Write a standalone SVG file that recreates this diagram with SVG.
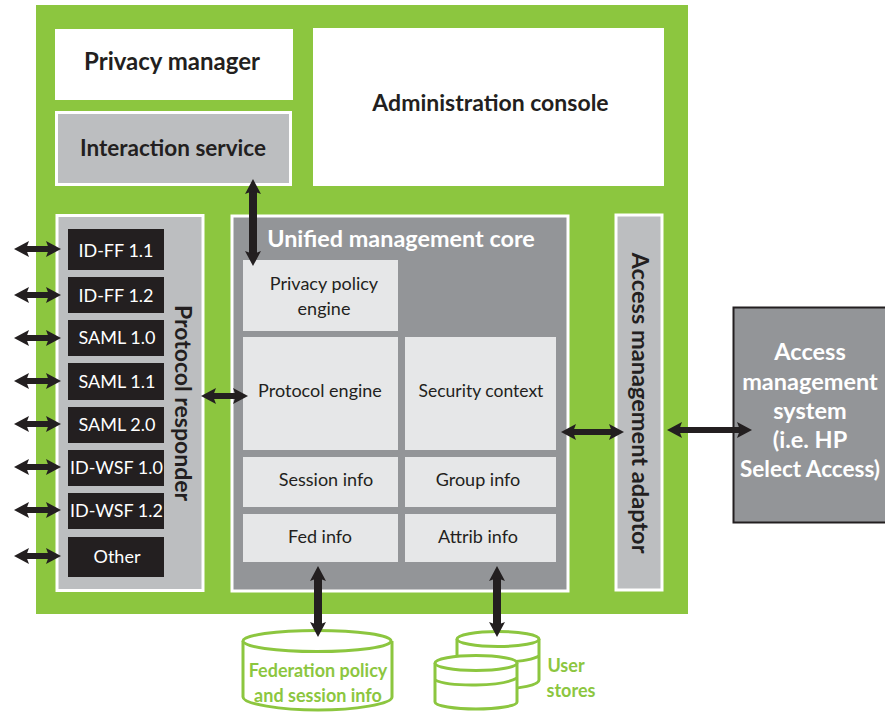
<svg xmlns="http://www.w3.org/2000/svg" width="885" height="712" viewBox="0 0 885 712">
<defs>
<marker id="ah" markerUnits="userSpaceOnUse" markerWidth="16" markerHeight="16" refX="4" refY="8" orient="auto-start-reverse" viewBox="0 0 16 16"><path d="M0 0L15 8L0 16L3 8Z" fill="#231f20"/></marker>
</defs>
<style>
text{font-family:"Lato","Liberation Sans",sans-serif;text-anchor:middle}
.b{font-weight:700;font-size:23px;fill:#231f20}
.w{fill:#fff;stroke:none}
.g{fill:#bcbec0;stroke:#fff;stroke-width:3}
.d{fill:#939598;stroke:#fff;stroke-width:3}
.l{fill:#e6e7e8}
.k{fill:#231f20}
.n{font-size:18px;fill:#231f20}
.t{font-size:18px;fill:#fff}
.wb{font-weight:700;font-size:23.500px;fill:#fff}
.gt{font-weight:700;font-size:18px;fill:#8cc63f}
.c{fill:#fff;stroke:#8cc63f;stroke-width:3}
.cn{stroke:#231f20;stroke-width:6;fill:none;marker-start:url(#ah);marker-end:url(#ah)}
.cb{stroke:#231f20;stroke-width:8;fill:none;marker-start:url(#ah);marker-end:url(#ah)}
</style>
<rect id="frame" x="36" y="5" width="652" height="609" fill="#8cc63f"/>
<g id="privacy-manager"><rect class="w" x="55" y="29" width="238" height="71"/><text class="b" style="font-size:24px" x="172" y="70">Privacy manager</text></g>
<g id="admin-console"><rect class="w" x="313" y="28" width="351" height="158"/><text class="b" x="490.500" y="111">Administration console</text></g>
<g id="interaction-service"><rect class="g" x="56.500" y="112.500" width="234" height="72"/><text class="b" style="font-size:22.500px" x="173" y="156">Interaction service</text></g>
<g id="protocol-responder"><rect class="g" x="57" y="215.500" width="146" height="375"/>
<text class="b" transform="translate(175 403) rotate(90)">Protocol responder</text>
<rect class="k" x="68" y="229" width="96" height="41"/><text class="t" x="116" y="257">ID-FF 1.1</text>
<rect class="k" x="68" y="277" width="96" height="36"/><text class="t" x="116" y="302">ID-FF 1.2</text>
<rect class="k" x="68" y="320" width="96" height="36"/><text class="t" x="117" y="344">SAML 1.0</text>
<rect class="k" x="68" y="363" width="96" height="37"/><text class="t" x="117" y="388">SAML 1.1</text>
<rect class="k" x="68" y="407" width="96" height="36"/><text class="t" x="117" y="431">SAML 2.0</text>
<rect class="k" x="68" y="450" width="96" height="36"/><text class="t" x="116.500" y="474">ID-WSF 1.0</text>
<rect class="k" x="68" y="493" width="96" height="36"/><text class="t" x="116.500" y="517">ID-WSF 1.2</text>
<rect class="k" x="68" y="537" width="96" height="40"/><text class="t" x="117" y="563">Other</text>
</g>
<g id="core"><rect class="d" x="232" y="216" width="336" height="375"/><text class="wb" style="font-size:23.400px" x="401" y="247">Unified management core</text>
<rect class="l" x="243" y="260" width="155" height="71"/><text class="n" x="324" y="290">Privacy policy</text><text class="n" x="324" y="315">engine</text>
<rect class="l" x="243" y="337" width="155" height="113"/><text class="n" x="320" y="397">Protocol engine</text>
<rect class="l" x="405" y="337" width="151" height="113"/><text class="n" style="font-size:17.500px" x="481" y="397">Security context</text>
<rect class="l" x="243" y="457" width="155" height="50"/><text class="n" x="326" y="486">Session info</text>
<rect class="l" x="405" y="457" width="151" height="50"/><text class="n" x="478" y="486">Group info</text>
<rect class="l" x="243" y="514" width="155" height="48"/><text class="n" x="320" y="543">Fed info</text>
<rect class="l" x="405" y="514" width="151" height="48"/><text class="n" x="478" y="543">Attrib info</text>
</g>
<g id="access-adaptor"><rect class="g" x="616" y="215" width="46" height="375"/><text class="b" style="font-size:23.600px" transform="translate(632 403) rotate(90)">Access management adaptor</text></g>
<g id="access-system"><rect x="733.500" y="307.500" width="155" height="215" fill="#939598" stroke="#231f20" stroke-width="2"/>
<text class="wb" x="810" y="360">Access</text><text class="wb" x="810" y="390">management</text><text class="wb" x="810" y="419">system</text><text class="wb" x="810" y="448">(i.e. HP</text><text class="wb" style="font-size:22.500px" x="810" y="477">Select Access)</text></g>
<g id="federation-store">
<path class="c" d="M243 641V697C243 704 281 710 318 710C355 710 392 704 392 697V641"/>
<ellipse class="c" cx="317" cy="641" rx="74" ry="10.500"/>
<text class="gt" x="318" y="677">Federation policy</text><text class="gt" x="318" y="702">and session info</text></g>
<g id="user-stores">
<path class="c" d="M457 639V681C457 686 480 689 498 689C520 689 539 685 539 680V639"/>
<path d="M457 658C470 664 525 664 539 656" fill="none" stroke="#8cc63f" stroke-width="3"/>
<ellipse class="c" cx="498" cy="639" rx="41" ry="7.500"/>
<path class="c" d="M435 663V702C435 706 455 709 476 709C497 709 517 706 517 702V663"/>
<path d="M435 680C450 687 502 687 517 678" fill="none" stroke="#8cc63f" stroke-width="3"/>
<ellipse class="c" cx="476" cy="663" rx="41" ry="7.500"/>
<text class="gt" x="566" y="672">User</text><text class="gt" x="571" y="697">stores</text></g>
<g id="connectors">
<line class="cn" x1="25" y1="249" x2="50" y2="249"/>
<line class="cn" x1="25" y1="295" x2="50" y2="295"/>
<line class="cn" x1="25" y1="338" x2="50" y2="338"/>
<line class="cn" x1="25" y1="381" x2="50" y2="381"/>
<line class="cn" x1="25" y1="424" x2="50" y2="424"/>
<line class="cn" x1="25" y1="467" x2="50" y2="467"/>
<line class="cn" x1="25" y1="510" x2="50" y2="510"/>
<line class="cn" x1="25" y1="556" x2="50" y2="556"/>
<line class="cn" x1="212" y1="396" x2="237" y2="396"/>
<line class="cn" x1="572" y1="432" x2="613" y2="432"/>
<line class="cn" x1="678" y1="430" x2="741" y2="430"/>
<line class="cb" x1="253" y1="190" x2="253" y2="255"/>
<line class="cb" x1="318" y1="577" x2="318" y2="626"/>
<line class="cb" x1="497" y1="577" x2="497" y2="626"/>
</g>
</svg>
